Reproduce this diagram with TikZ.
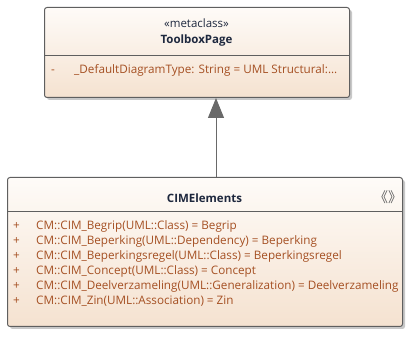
\documentclass[tikz,border=0pt]{standalone}
\usepackage{fontspec}
\setmainfont{Open Sans}
\newfontfamily\cjkfont{Noto Sans CJK SC}
\usetikzlibrary{shadows,arrows.meta}
\definecolor{bordc}{RGB}{95,95,95}
\definecolor{topc}{RGB}{254,251,248}
\definecolor{botc}{RGB}{245,226,208}
\definecolor{attrc}{RGB}{165,80,35}
\definecolor{namec}{RGB}{30,40,62}
\definecolor{arrc}{RGB}{105,105,105}
\definecolor{shadc}{RGB}{200,200,200}
\tikzset{
  umlbox/.style={draw=bordc, line width=1pt, rounded corners=2.5pt,
    top color=topc, bottom color=botc, anchor=north west, inner sep=0pt,
    drop shadow={shadow xshift=2.5pt, shadow yshift=-2.5pt, fill=shadc, opacity=1}},
  sep/.style={draw=bordc, line width=1pt},
  attr/.style={anchor=west, inner sep=0pt, text height=8.5pt, text depth=2.5pt,
    text=attrc, font=\fontsize{11.7}{13}\selectfont},
  title/.style={inner sep=0pt, text=namec, font=\fontsize{11.5}{13}\selectfont\bfseries},
  stereo/.style={inner sep=0pt, text=namec, font=\fontsize{11.5}{13}\selectfont},
  genline/.style={draw=arrc, line width=1pt, -{Triangle[width=16pt,length=20pt,fill=arrc]}}
}
\begin{document}
\begin{tikzpicture}[x=1pt,y=-1pt]
\useasboundingbox (0,0) rectangle (416,342);
% top class
\node[umlbox, minimum width=305pt, minimum height=90pt] (tb) at (44,7) {};
\draw[sep] (tb.west |- 0,56) coordinate (ts1) -- (tb.east |- 0,56) coordinate (ts2);
\node[stereo] (tst) at (196.5,23) {«metaclass»};
\node[title] (tnm) at (196.5,41) {ToolboxPage};
\node[attr] (tvis) at (51,71) {-};
\node[attr] (tat) at (74,71) {\_DefaultDiagramType: String = UML Structural:...};
% bottom class
\node[umlbox, minimum width=395pt, minimum height=149pt] (bb) at (7,177) {};
\draw[sep] (bb.west |- 0,212) coordinate (bs1) -- (bb.east |- 0,212) coordinate (bs2);
\node[title] (bnm) at (204.5,198) {CIMElements};
\node[stereo, text=bordc, font=\fontsize{14}{14}\cjkfont] (bsym) at (388,197) {《》};
\foreach \i/\t in {0/{CM::CIM\_Begrip(UML::Class) = Begrip},
                   1/{CM::CIM\_Beperking(UML::Dependency) = Beperking},
                   2/{CM::CIM\_Beperkingsregel(UML::Class) = Beperkingsregel},
                   3/{CM::CIM\_Concept(UML::Class) = Concept},
                   4/{CM::CIM\_Deelverzameling(UML::Generalization) = Deelverzameling},
                   5/{CM::CIM\_Zin(UML::Association) = Zin}}{
  \node[attr] (bv\i) at (13,227+15*\i) {+};
  \node[attr] (ba\i) at (36,227+15*\i) {\t};
}
% generalization
\path (tb.south west) ++(172,0) coordinate (gtip);
\draw[genline] (gtip |- bb.north) -- (gtip);
\end{tikzpicture}
\end{document}
